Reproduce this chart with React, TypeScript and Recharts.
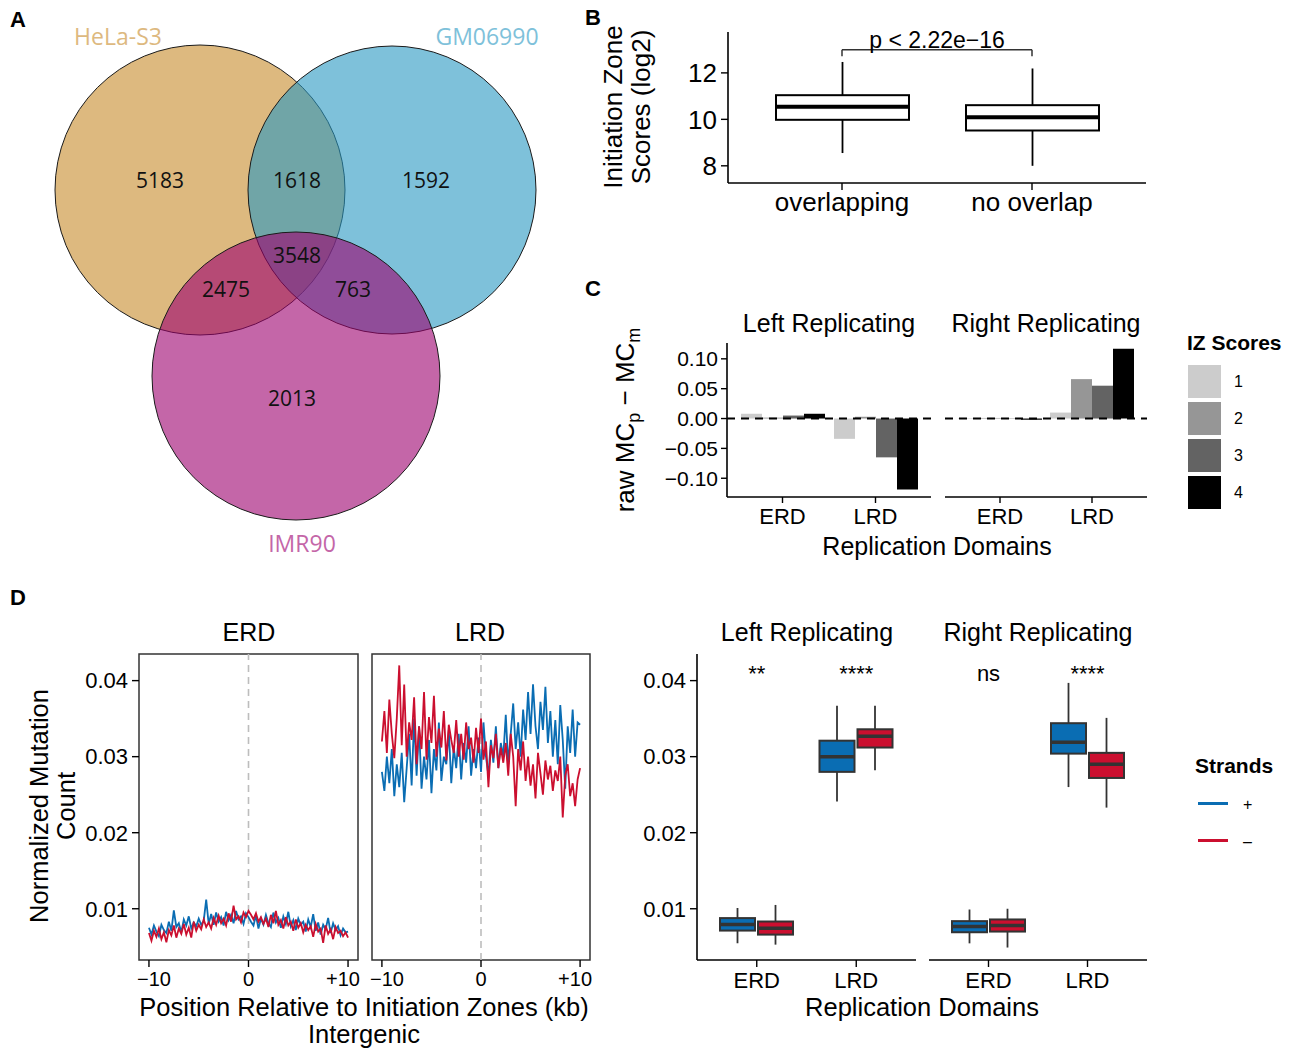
import React from 'react'
import {
  ScatterChart, Scatter, XAxis, YAxis, ComposedChart, Bar, BarChart, LineChart, Line,
  ReferenceLine, ReferenceArea, ReferenceDot,
} from 'recharts'

const SANS = '"Liberation Sans", Arial, Helvetica, sans-serif'
const VENN_FONT = '"Open Sans", "Noto Sans", sans-serif'
const BLUE = '#0A6DB3'
const RED = '#CB0F2F'

// ---- A: Venn (diagram units = px) ----
const VENN_SETS = ['HeLa-S3', 'GM06990', 'IMR90']
const VENN_X = [200, 392, 296]
const VENN_Y = [190, 190, 376]
const VENN_R = [145, 144, 144]
const VENN_FILLS = ['rgb(198,138,42)', 'rgb(40,152,193)', 'rgb(157,0,110)']
const VENN_NAME_COLORS = ['#DDB97F', '#7EC1DA', '#C466A8']
const VENN_NAME_X = [118, 487, 302]
const VENN_NAME_Y = [36, 36, 543]
const VENN_COUNTS = [5183, 1618, 1592, 3548, 2475, 763, 2013]
const VENN_COUNT_X = [160, 297, 426, 297, 226, 353, 292]
const VENN_COUNT_Y = [180, 180, 180, 255, 289, 289, 398]

// ---- B: IZ score boxplot ----
const B_GROUPS = ['overlapping', 'no overlap']
// [lower whisker, Q1, median, Q3, upper whisker]
const B_STATS = [
  [8.55, 9.98, 10.54, 11.04, 12.47],
  [8.0, 9.52, 10.09, 10.61, 12.19],
]
const B_TICKS = [8, 10, 12]
const B_DOMAIN = [7.26, 13.76]
const B_BRACKET = 13.0
const B_BRACKET_END = 12.72
const B_P_LABEL = 'p < 2.22e\u221216'

// ---- C: MCp - MCm bars ----
const C_DOMAINS = ['ERD', 'LRD']
const IZ_LEVELS = ['1', '2', '3', '4']
const IZ_COLORS = ['#CCCCCC', '#969696', '#636363', '#000000']
const LEFT_IZ_1 = [0.008, -0.034]
const LEFT_IZ_2 = [0.0015, 0.003]
const LEFT_IZ_3 = [0.005, -0.065]
const LEFT_IZ_4 = [0.008, -0.119]
const RIGHT_IZ_1 = [0.0008, 0.010]
const RIGHT_IZ_2 = [0.001, 0.066]
const RIGHT_IZ_3 = [0.0005, 0.055]
const RIGHT_IZ_4 = [-0.002, 0.117]
const C_TICKS = [-0.1, -0.05, 0, 0.05, 0.1]
const C_DOMAIN = [-0.1314, 0.1265]

// ---- D left: profiles around IZs ----
const POSITIONS_KB = Array.from({ length: 81 }, (_, i) => -10 + i * 0.25)
const ERD_PLUS = [
  0.0075, 0.0066, 0.0078, 0.0070, 0.0064, 0.0079, 0.0072, 0.0068, 0.0083, 0.0071,
  0.0098, 0.0076, 0.0081, 0.0069, 0.0086, 0.0078, 0.0090, 0.0074, 0.0082, 0.0077,
  0.0087, 0.0079, 0.0084, 0.0112, 0.0080, 0.0093, 0.0079, 0.0095, 0.0083, 0.0089,
  0.0078, 0.0096, 0.0085, 0.0092, 0.0081, 0.0097, 0.0086, 0.0090, 0.0080, 0.0094,
  0.0089, 0.0083, 0.0078, 0.0091, 0.0074, 0.0087, 0.0079, 0.0092, 0.0081, 0.0076,
  0.0095, 0.0082, 0.0088, 0.0075, 0.0090, 0.0080, 0.0096, 0.0077, 0.0085, 0.0072,
  0.0087, 0.0079, 0.0083, 0.0070, 0.0086, 0.0076, 0.0093, 0.0071, 0.0082, 0.0066,
  0.0079, 0.0073, 0.0088, 0.0068, 0.0081, 0.0072, 0.0077, 0.0065, 0.0074, 0.0069,
  0.0070,
]
const ERD_MINUS = [
  0.0068, 0.0058, 0.0071, 0.0063, 0.0074, 0.0060, 0.0069, 0.0056, 0.0072, 0.0065,
  0.0078, 0.0062, 0.0074, 0.0067, 0.0080, 0.0066, 0.0075, 0.0062, 0.0083, 0.0071,
  0.0079, 0.0073, 0.0086, 0.0076, 0.0082, 0.0074, 0.0088, 0.0079, 0.0091, 0.0081,
  0.0087, 0.0078, 0.0094, 0.0083, 0.0104, 0.0086, 0.0090, 0.0082, 0.0095, 0.0089,
  0.0097, 0.0092, 0.0086, 0.0094, 0.0083, 0.0089, 0.0080, 0.0087, 0.0076, 0.0092,
  0.0081, 0.0097, 0.0079, 0.0085, 0.0074, 0.0089, 0.0078, 0.0083, 0.0071, 0.0086,
  0.0075, 0.0081, 0.0069, 0.0079, 0.0072, 0.0077, 0.0063, 0.0080, 0.0070, 0.0074,
  0.0055, 0.0078, 0.0067, 0.0073, 0.0060, 0.0076, 0.0068, 0.0071, 0.0064, 0.0069,
  0.0062,
]
const LRD_PLUS = [
  0.0280, 0.0255, 0.0300, 0.0265, 0.0310, 0.0248, 0.0290, 0.0260, 0.0305, 0.0240,
  0.0285, 0.0330, 0.0262, 0.0350, 0.0275, 0.0340, 0.0258, 0.0300, 0.0270, 0.0322,
  0.0252, 0.0310, 0.0282, 0.0345, 0.0268, 0.0300, 0.0290, 0.0335, 0.0265, 0.0312,
  0.0285, 0.0330, 0.0270, 0.0318, 0.0292, 0.0340, 0.0275, 0.0310, 0.0285, 0.0325,
  0.0280, 0.0345, 0.0300, 0.0275, 0.0322, 0.0292, 0.0340, 0.0285, 0.0318, 0.0300,
  0.0355, 0.0290, 0.0330, 0.0370, 0.0310, 0.0345, 0.0300, 0.0362, 0.0322, 0.0385,
  0.0330, 0.0395, 0.0340, 0.0310, 0.0372, 0.0335, 0.0392, 0.0318, 0.0360, 0.0300,
  0.0348, 0.0290, 0.0368, 0.0322, 0.0258, 0.0340, 0.0305, 0.0362, 0.0300, 0.0345,
  0.0342,
]
const LRD_MINUS = [
  0.0320, 0.0360, 0.0305, 0.0375, 0.0330, 0.0298, 0.0350, 0.0420, 0.0315, 0.0395,
  0.0300, 0.0345, 0.0322, 0.0378, 0.0290, 0.0340, 0.0310, 0.0385, 0.0296, 0.0352,
  0.0318, 0.0380, 0.0300, 0.0337, 0.0312, 0.0360, 0.0295, 0.0342, 0.0322, 0.0305,
  0.0348, 0.0300, 0.0330, 0.0296, 0.0345, 0.0310, 0.0325, 0.0292, 0.0338, 0.0305,
  0.0350, 0.0296, 0.0320, 0.0260, 0.0315, 0.0298, 0.0330, 0.0285, 0.0312, 0.0292,
  0.0318, 0.0275, 0.0330, 0.0300, 0.0235, 0.0310, 0.0282, 0.0320, 0.0268, 0.0300,
  0.0262, 0.0290, 0.0245, 0.0305, 0.0278, 0.0250, 0.0295, 0.0270, 0.0288, 0.0255,
  0.0282, 0.0268, 0.0300, 0.0220, 0.0275, 0.0290, 0.0248, 0.0265, 0.0235, 0.0270,
  0.0285,
]
const D_DOMAIN = [0.00326, 0.0435]
const D_TICKS = [0.01, 0.02, 0.03, 0.04]
const KB_TICKS = [-10, 0, 10]

// ---- D right: strand boxplots ----
const STRAND_DOMAINS = ['ERD', 'LRD']
const LEFT_PLUS = [[0.00545, 0.00713, 0.00793, 0.00877, 0.0101], [0.0241, 0.0280, 0.0300, 0.0321, 0.0367]]
const LEFT_MINUS = [[0.00528, 0.0066, 0.00744, 0.00832, 0.0105], [0.0282, 0.0312, 0.0327, 0.0336, 0.0367]]
const RIGHT_PLUS = [[0.00545, 0.00691, 0.00766, 0.00837, 0.0099], [0.0260, 0.0304, 0.0319, 0.0344, 0.0397]]
const RIGHT_MINUS = [[0.0049, 0.0070, 0.0078, 0.00859, 0.0100], [0.0233, 0.0272, 0.0290, 0.0305, 0.0351]]
const SIGNIF_LEFT = ['**', '****']
const SIGNIF_RIGHT = ['ns', '****']
const SIGNIF_Y = 0.0399

// ---------- helpers ----------
const T = ({ x, y, s, children, bold, rot, left, color = '#000', font = SANS }: any) => (
  <div
    style={{
      position: 'absolute', left: x, top: y,
      transform: `translate(${left ? '0' : '-50%'}, -50%)${rot ? ' rotate(-90deg)' : ''}`,
      fontSize: s, fontWeight: bold ? 700 : 400, color, fontFamily: font,
      whiteSpace: 'nowrap', lineHeight: 1,
    }}
  >
    {children}
  </div>
)

const at = (x: number, y: number): React.CSSProperties => ({ position: 'absolute', left: x, top: y })

const boxShape = (key: string, fill: string, edge: string, edgeW: number, midW: number) => (props: any) => {
  const { x, y, width, height, payload } = props
  const [lo, q1, med, q3, hi] = payload[key]
  const top = Math.min(y, y + height)
  const h = Math.abs(height)
  const py = (v: number) => top + ((hi - v) / (hi - lo)) * h
  const cx = x + width / 2
  return (
    <g>
      <line x1={cx} x2={cx} y1={py(hi)} y2={py(lo)} stroke={edge} strokeWidth={edgeW * 0.9} />
      <rect x={x} y={py(q3)} width={width} height={py(q1) - py(q3)} fill={fill} stroke={edge} strokeWidth={edgeW} />
      <line x1={x} x2={x + width} y1={py(med)} y2={py(med)} stroke={edge} strokeWidth={midW} />
    </g>
  )
}

const tickStyle = (s: number) => ({ fill: '#000', fontSize: s, fontFamily: SANS })
const axisLine = { stroke: '#000', strokeWidth: 1.6 }
const tickLine = { stroke: '#000', strokeWidth: 1.4 }
const kbLabel = (v: number) => (v === 0 ? '0' : v < 0 ? '\u2212' + Math.abs(v) : '+' + v)

const KbTick = (p: any) => {
  const v = p.payload.value
  const dx = v > 0 ? -5 : v < 0 ? 5 : 0
  return (
    <text x={p.x + dx} y={p.y} dy="0.71em" textAnchor="middle" fontSize={20} fontFamily={SANS} fill="#000">
      {kbLabel(v)}
    </text>
  )
}

const Venn = () => {
  const circles = VENN_SETS.map((name, i) => ({ name, x: VENN_X[i], y: VENN_Y[i], r: VENN_R[i], fill: VENN_FILLS[i] }))
  const names = VENN_SETS.map((name, i) => ({ label: name, x: VENN_NAME_X[i], y: VENN_NAME_Y[i], color: VENN_NAME_COLORS[i] }))
  const counts = VENN_COUNTS.map((c, i) => ({ label: String(c), x: VENN_COUNT_X[i], y: VENN_COUNT_Y[i], color: '#111' }))
  const circleShape = (p: any) => (
    <circle cx={p.cx} cy={p.cy} r={p.payload.r} fill={p.payload.fill} fillOpacity={0.6} stroke="#1a1a1a" strokeWidth={1} />
  )
  const textShape = (size: number) => (p: any) => (
    <text x={p.cx} y={p.cy} textAnchor="middle" dominantBaseline="central" fontSize={size} fontFamily={VENN_FONT} fill={p.payload.color}>
      {p.payload.label}
    </text>
  )
  return (
    <div style={at(0, 0)}>
      <ScatterChart width={560} height={560} margin={{ top: 0, right: 0, bottom: 0, left: 0 }}>
        <XAxis type="number" dataKey="x" domain={[0, 560]} hide />
        <YAxis type="number" dataKey="y" domain={[0, 560]} reversed hide />
        <Scatter data={circles} shape={circleShape} isAnimationActive={false} />
        <Scatter data={counts} shape={textShape(21)} isAnimationActive={false} />
        <Scatter data={names} shape={textShape(23)} isAnimationActive={false} />
      </ScatterChart>
    </div>
  )
}

const PanelB = () => {
  const data = B_GROUPS.map((g, i) => ({ group: g, stats: B_STATS[i] }))
  return (
    <div style={at(658, 22)}>
      <ComposedChart width={498} height={206} data={data} margin={{ top: 10, right: 10, bottom: 0, left: 0 }}>
        <XAxis dataKey="group" padding={{ left: 19, right: 19 }} tick={tickStyle(26)} axisLine={axisLine} tickLine={tickLine} tickSize={7} tickMargin={3} height={45} interval={0} />
        <YAxis type="number" domain={B_DOMAIN} ticks={B_TICKS} allowDataOverflow width={70} interval={0} tick={tickStyle(26)} axisLine={axisLine} tickLine={tickLine} tickSize={7} tickMargin={4} />
        <Bar dataKey={(d: any) => [d.stats[0], d.stats[4]]} barSize={133} shape={boxShape('stats', '#fff', '#000', 2, 4)} isAnimationActive={false} />
        <ReferenceLine segment={[{ x: B_GROUPS[0], y: B_BRACKET }, { x: B_GROUPS[1], y: B_BRACKET }]} stroke="#333" strokeWidth={1.5}
          label={{ value: B_P_LABEL, position: 'top', fill: '#000', fontSize: 23, fontFamily: SANS, offset: 2 }} />
        <ReferenceLine segment={[{ x: B_GROUPS[0], y: B_BRACKET }, { x: B_GROUPS[0], y: B_BRACKET_END }]} stroke="#333" strokeWidth={1.5} />
        <ReferenceLine segment={[{ x: B_GROUPS[1], y: B_BRACKET }, { x: B_GROUPS[1], y: B_BRACKET_END }]} stroke="#333" strokeWidth={1.5} />
      </ComposedChart>
    </div>
  )
}

const IzFacet = ({ series, left, x, w }: { series: number[][]; left: boolean; x: number; w: number }) => {
  const data = C_DOMAINS.map((d, i) => ({ domain: d, s1: series[0][i], s2: series[1][i], s3: series[2][i], s4: series[3][i] }))
  const l = left ? 70 : 0
  return (
    <div style={at(x - l, 333)}>
      <BarChart width={w + l + 2} height={204} data={data} barGap={0} margin={{ top: 10, right: 2, bottom: 0, left: 0 }}>
        <XAxis dataKey="domain" padding={{ left: 9, right: 9 }} tick={tickStyle(22)} axisLine={axisLine} tickLine={tickLine} tickSize={6} tickMargin={5} height={40} interval={0} />
        <YAxis type="number" domain={C_DOMAIN} ticks={C_TICKS} allowDataOverflow hide={!left} width={70} interval={0}
          tickFormatter={(v: number) => (v < 0 ? '\u2212' + Math.abs(v).toFixed(2) : v.toFixed(2))}
          tick={tickStyle(21)} axisLine={axisLine} tickLine={tickLine} tickSize={6} tickMargin={3} />
        {['s1', 's2', 's3', 's4'].map((k, i) => (
          <Bar key={k} dataKey={k} fill={IZ_COLORS[i]} barSize={21} isAnimationActive={false} />
        ))}
        <ReferenceLine y={0} stroke="#000" strokeWidth={2} strokeDasharray="8 6" />
      </BarChart>
    </div>
  )
}

const ProfileFacet = ({ plus, minus, left, x, w }: { plus: number[]; minus: number[]; left: boolean; x: number; w: number }) => {
  const data = POSITIONS_KB.map((p, i) => ({ pos: p, plus: plus[i], minus: minus[i] }))
  const l = left ? 60 : 0
  return (
    <div style={at(x - l, 644)}>
      <LineChart width={w + l + 2} height={356} data={data} margin={{ top: 10, right: 2, bottom: 0, left: 0 }}>
        <XAxis type="number" dataKey="pos" domain={[-11, 11]} ticks={KB_TICKS} allowDataOverflow interval={0}
          tick={KbTick} axisLine={false} tickLine={tickLine} tickSize={7} tickMargin={5} height={40} />
        <YAxis type="number" domain={D_DOMAIN} ticks={D_TICKS} allowDataOverflow hide={!left} width={60} interval={0}
          tickFormatter={(v: number) => v.toFixed(2)} tick={tickStyle(22)} axisLine={false} tickLine={tickLine} tickSize={7} tickMargin={4} />
        <ReferenceLine x={0} stroke="#BDBDBD" strokeWidth={1.6} strokeDasharray="7 5" />
        <Line dataKey="plus" stroke={BLUE} strokeWidth={1.8} dot={false} isAnimationActive={false} />
        <Line dataKey="minus" stroke={RED} strokeWidth={1.8} dot={false} isAnimationActive={false} />
        <ReferenceArea x1={-11} x2={11} y1={D_DOMAIN[0]} y2={D_DOMAIN[1]} fill="none" stroke="#333" strokeWidth={1.5} ifOverflow="visible" />
      </LineChart>
    </div>
  )
}

const StrandFacet = ({ plus, minus, signif, left, x, w }: { plus: number[][]; minus: number[][]; signif: string[]; left: boolean; x: number; w: number }) => {
  const data = STRAND_DOMAINS.map((d, i) => ({ domain: d, plus: plus[i], minus: minus[i] }))
  const l = left ? 60 : 0
  return (
    <div style={at(x - l, 644)}>
      <ComposedChart width={w + l + 2} height={356} data={data} barGap={3} margin={{ top: 10, right: 2, bottom: 0, left: 0 }}>
        <XAxis dataKey="domain" padding={{ left: 10, right: 10 }} tick={tickStyle(22)} axisLine={axisLine} tickLine={tickLine} tickSize={7} tickMargin={5} height={40} interval={0} />
        <YAxis type="number" domain={D_DOMAIN} ticks={D_TICKS} allowDataOverflow hide={!left} width={60} interval={0}
          tickFormatter={(v: number) => v.toFixed(2)} tick={tickStyle(22)} axisLine={axisLine} tickLine={tickLine} tickSize={7} tickMargin={4} />
        <Bar dataKey={(d: any) => [d.plus[0], d.plus[4]]} barSize={35} shape={boxShape('plus', BLUE, '#333', 2, 3.5)} isAnimationActive={false} />
        <Bar dataKey={(d: any) => [d.minus[0], d.minus[4]]} barSize={35} shape={boxShape('minus', RED, '#333', 2, 3.5)} isAnimationActive={false} />
        {STRAND_DOMAINS.map((d, i) => (
          <ReferenceDot key={d} x={d} y={SIGNIF_Y} r={0}
            shape={(p: any) => (
              <text x={p.cx} y={p.cy} textAnchor="middle" fontSize={22} fontFamily={SANS} fill="#000">{signif[i]}</text>
            )} />
        ))}
      </ComposedChart>
    </div>
  )
}

export default function App() {
  return (
    <div style={{ position: 'absolute', left: 0, top: 0, width: 1300, height: 1049, background: '#fff', fontFamily: SANS, overflow: 'hidden' }}>
      <style>{'.recharts-surface { overflow: visible; }'}</style>
      <T x={18} y={20} s={22} bold>A</T>
      <T x={593} y={18} s={22} bold>B</T>
      <T x={593} y={289} s={22} bold>C</T>
      <T x={18} y={598} s={22} bold>D</T>

      <Venn />

      <PanelB />
      <T x={613} y={107} s={26} rot>Initiation Zone</T>
      <T x={641} y={107} s={26} rot>Scores (log2)</T>

      <T x={829} y={323} s={25}>Left Replicating</T>
      <T x={1046} y={323} s={25}>Right Replicating</T>
      <IzFacet series={[LEFT_IZ_1, LEFT_IZ_2, LEFT_IZ_3, LEFT_IZ_4]} left x={727} w={204} />
      <IzFacet series={[RIGHT_IZ_1, RIGHT_IZ_2, RIGHT_IZ_3, RIGHT_IZ_4]} left={false} x={945} w={202} />
      <svg style={at(600, 320)} width={50} height={200}>
        <text transform="translate(34,100) rotate(-90)" textAnchor="middle" fontSize={26} fontFamily={SANS} fill="#000">
          raw MC<tspan fontSize={18} dy={6}>p</tspan><tspan dy={-6}>{' \u2212 MC'}</tspan><tspan fontSize={18} dy={6}>m</tspan>
        </text>
      </svg>
      <T x={937} y={546} s={25}>Replication Domains</T>
      <T x={1187} y={342} s={21} bold left>IZ Scores</T>
      {IZ_LEVELS.map((lv, i) => (
        <React.Fragment key={lv}>
          <div style={{ ...at(1188, 365 + i * 37), width: 33, height: 33, background: IZ_COLORS[i] }} />
          <T x={1234} y={382 + i * 37} s={16} left>{lv}</T>
        </React.Fragment>
      ))}

      <T x={249} y={632} s={25}>ERD</T>
      <T x={480} y={632} s={25}>LRD</T>
      <ProfileFacet plus={ERD_PLUS} minus={ERD_MINUS} left x={139} w={219} />
      <ProfileFacet plus={LRD_PLUS} minus={LRD_MINUS} left={false} x={372} w={218} />
      <T x={40} y={806} s={25.5} rot>Normalized Mutation</T>
      <T x={67} y={806} s={25.5} rot>Count</T>
      <T x={364} y={1008} s={25.5}>Position Relative to Initiation Zones (kb)</T>
      <T x={364} y={1035} s={25.5}>Intergenic</T>

      <T x={807} y={632} s={25}>Left Replicating</T>
      <T x={1038} y={632} s={25}>Right Replicating</T>
      <StrandFacet plus={LEFT_PLUS} minus={LEFT_MINUS} signif={SIGNIF_LEFT} left x={697} w={219} />
      <StrandFacet plus={RIGHT_PLUS} minus={RIGHT_MINUS} signif={SIGNIF_RIGHT} left={false} x={929} w={218} />
      <T x={922} y={1008} s={25.5}>Replication Domains</T>
      <T x={1195} y={765} s={21} bold left>Strands</T>
      <div style={{ ...at(1198, 802), width: 30, height: 2.5, background: BLUE }} />
      <T x={1243} y={805} s={16} left>+</T>
      <div style={{ ...at(1198, 839), width: 30, height: 2.5, background: RED }} />
      <T x={1243} y={842} s={16} left>{'\u2013'}</T>
    </div>
  )
}
